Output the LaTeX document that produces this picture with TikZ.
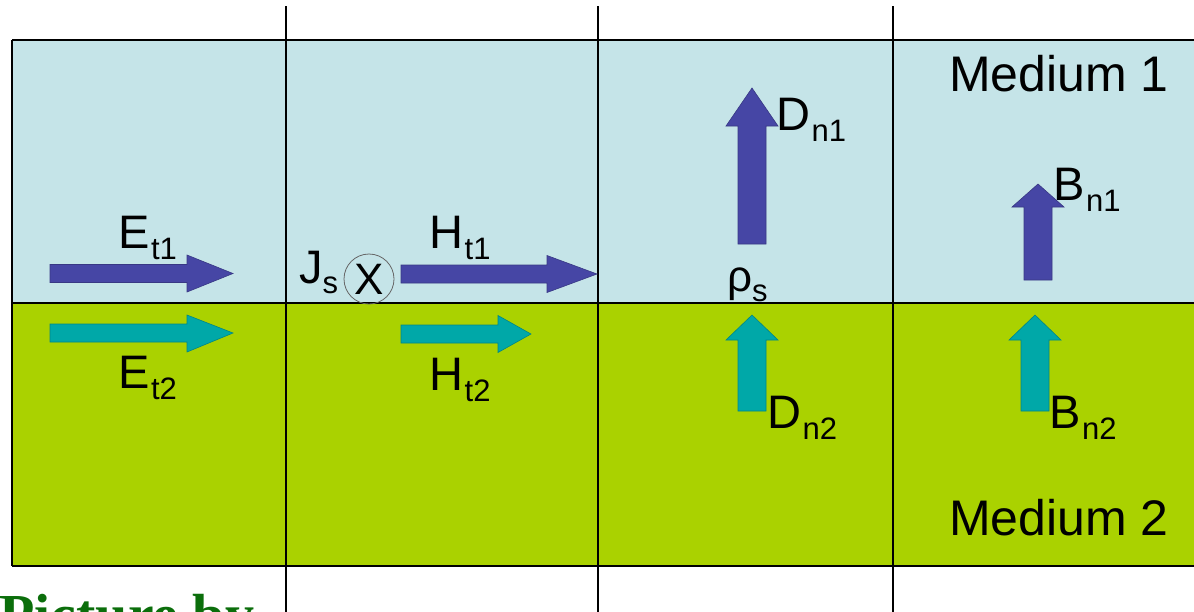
\documentclass[tikz,border=0pt]{standalone}
\usepackage{fontspec}
\setmainfont{Liberation Sans}
\newfontfamily\serifbold{Liberation Serif}
\definecolor{medone}{HTML}{C5E4E8}
\definecolor{medtwo}{HTML}{AAD200}
\definecolor{arrblue}{HTML}{4646A5}
\definecolor{arrcyan}{HTML}{00A8A8}
\definecolor{picgreen}{HTML}{0B6E0B}
\newcommand\vlab[2]{\fontsize{47}{47}\selectfont #1\kern1.5pt\raisebox{-11pt}{\fontsize{31}{31}\selectfont #2}}
\tikzset{
  lab/.style={inner sep=0pt, anchor=base west},
  gridline/.style={line width=2pt, black},
  bluearr/.style={fill=arrblue, draw=arrblue!80!black, line width=0.6pt},
  cyanarr/.style={fill=arrcyan, draw=arrcyan!80!black, line width=0.6pt},
}
\begin{document}
\begin{tikzpicture}[x=1pt,y=-1pt]
\useasboundingbox (0,0) rectangle (1194,611);
\clip (0,0) rectangle (1194,611);
% media
\fill[medone] (12,40) rectangle (1200,303);
\fill[medtwo] (12,303) rectangle (1200,566);
% grid lines
\draw[gridline] (12,40) -- (1200,40);
\draw[gridline] (12,303) -- (1200,303);
\draw[gridline] (12,566) -- (1200,566);
\draw[gridline] (12,40) -- (12,566);
\foreach \xx in {286,598,893} \draw[gridline] (\xx,6) -- (\xx,615);
% horizontal arrows
\draw[bluearr] (50,264.5) -- (187,264.5) -- (187,255) -- (233,273.5) -- (187,292) -- (187,282.5) -- (50,282.5) -- cycle;
\draw[cyanarr] (50,324) -- (187,324) -- (187,315) -- (233,333) -- (187,352) -- (187,342) -- (50,342) -- cycle;
\draw[bluearr] (401,265) -- (547,265) -- (547,255.5) -- (597,274) -- (547,292.5) -- (547,283) -- (401,283) -- cycle;
\draw[cyanarr] (401,325) -- (498,325) -- (498,315.5) -- (531,334) -- (498,352.5) -- (498,343) -- (401,343) -- cycle;
% vertical arrows
\draw[bluearr] (738,244) -- (738,126) -- (726,126) -- (752,88) -- (778,126) -- (766,126) -- (766,244) -- cycle;
\draw[cyanarr] (738,411) -- (738,340) -- (726,340) -- (752,315) -- (778,340) -- (766,340) -- (766,411) -- cycle;
\draw[bluearr] (1024,280) -- (1024,207) -- (1012,207) -- (1038,184) -- (1064,207) -- (1052,207) -- (1052,280) -- cycle;
\draw[cyanarr] (1021,411) -- (1021,340) -- (1009,340) -- (1035,315) -- (1061,340) -- (1049,340) -- (1049,411) -- cycle;
% labels
\node[lab] (et1) at (118,248) {\vlab{E}{t1}};
\node[lab] (et2) at (118,388) {\vlab{E}{t2}};
\node[lab] (ht1) at (429,248) {\vlab{H}{t1}};
\node[lab] (ht2) at (429,390) {\vlab{H}{t2}};
\node[lab] (js) at (299,283) {\fontsize{47}{47}\selectfont J\raisebox{-10pt}{\fontsize{31}{31}\selectfont s}};
\node[circle, draw=black!60, line width=0.8pt, minimum size=50pt, inner sep=0pt,
      font=\fontsize{44}{44}\selectfont] (cross) at (369,279) {X};
\node[lab] (dn1) at (776,130) {\vlab{D}{n1}};
\node[lab] (dn2) at (767,428) {\vlab{D}{n2}};
\node[lab] (bn1) at (1053,200) {\vlab{B}{n1}};
\node[lab] (bn2) at (1049,428) {\vlab{B}{n2}};
\node[lab] (rho) at (727,291) {\fontsize{44}{44}\selectfont ρ\raisebox{-10pt}{\fontsize{31}{31}\selectfont s}};
\node[lab, font=\fontsize{50}{50}\selectfont] (m1) at (949,91) {Medium 1};
\node[lab, font=\fontsize{50}{50}\selectfont] (m2) at (949,535) {Medium 2};
\node[lab, text=picgreen, font=\serifbold\bfseries\fontsize{58}{58}\selectfont] (pic) at (-1,634) {Picture by};
\end{tikzpicture}
\end{document}
